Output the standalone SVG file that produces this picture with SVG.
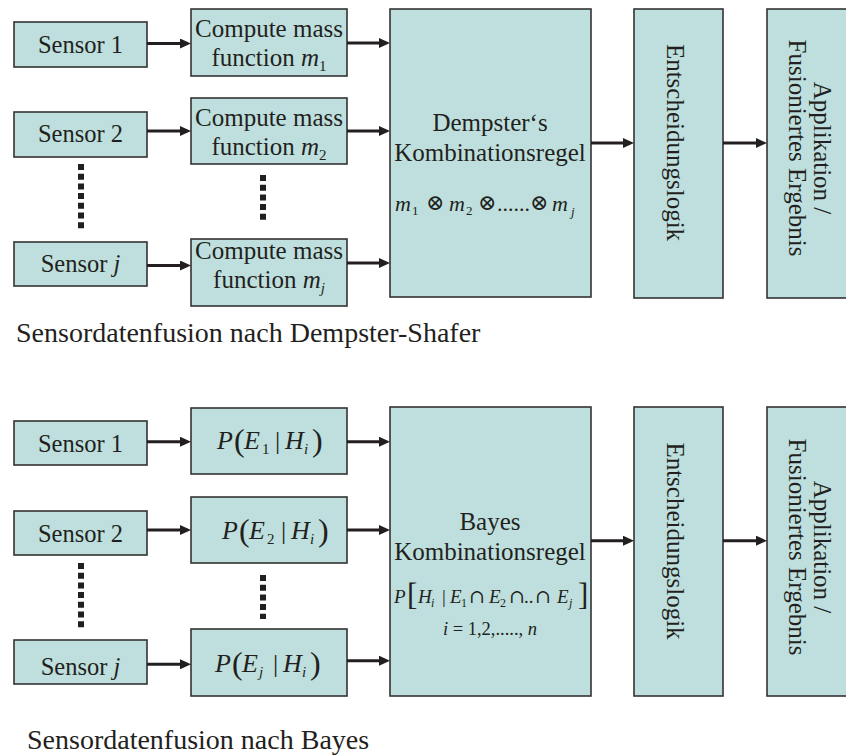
<svg xmlns="http://www.w3.org/2000/svg" width="846" height="756" viewBox="0 0 846 756">
  <style>
    .box { fill: #bedfdd; stroke: #333333; stroke-width: 1.6; }
    text { font-family: "Liberation Serif", "DejaVu Serif", serif; fill: #231f20; }
    .lbl { font-size: 25px; text-anchor: middle; }
    .sen { font-size: 24.5px; text-anchor: middle; }
    .cap { font-size: 28px; }
    .it { font-style: italic; }
    .op { font-family: "DejaVu Serif", serif; font-size: 22px; }
    .cap-op { font-family: "DejaVu Serif", serif; font-size: 19px; }
    .link { stroke: #231f20; stroke-width: 3; fill: none; marker-end: url(#head); }
    .dots { stroke: #231f20; stroke-width: 6; stroke-dasharray: 6 3.7; fill: none; }
  </style>
  <defs>
    <marker id="head" markerUnits="userSpaceOnUse" markerWidth="11" markerHeight="10" refX="5" refY="5" orient="auto">
      <path d="M0,0 L11,5 L0,10 z" fill="#231f20"/>
    </marker>
  </defs>

  <rect width="846" height="756" fill="#ffffff"/>

  <!-- Dempster-Shafer chain -->
  <g id="ds-sensor-1"><rect class="box" x="14" y="22" width="133" height="45"/><text class="sen" x="80.5" y="53">Sensor 1</text></g>
  <g id="ds-sensor-2"><rect class="box" x="14" y="112" width="133" height="45"/><text class="sen" x="80.5" y="142">Sensor 2</text></g>
  <g id="ds-sensor-j"><rect class="box" x="14" y="242" width="133" height="44"/><text class="sen" x="80.5" y="272">Sensor <tspan class="it">j</tspan></text></g>

  <g id="ds-mass-1"><rect class="box" x="191" y="9" width="156" height="67"/>
    <text class="lbl" x="269" y="36.5">Compute mass</text>
    <text class="lbl" x="269" y="65.5">function <tspan class="it">m</tspan><tspan font-size="15" dy="5">1</tspan></text></g>
  <g id="ds-mass-2"><rect class="box" x="191" y="98" width="156" height="66"/>
    <text class="lbl" x="269" y="125.5">Compute mass</text>
    <text class="lbl" x="269" y="155">function <tspan class="it">m</tspan><tspan font-size="15" dy="5">2</tspan></text></g>
  <g id="ds-mass-j"><rect class="box" x="191" y="239" width="156" height="67"/>
    <text class="lbl" x="269" y="259">Compute mass</text>
    <text class="lbl" x="269" y="288">function <tspan class="it">m</tspan><tspan class="it" font-size="15" dy="5">j</tspan></text></g>

  <g id="ds-combine"><rect class="box" x="390" y="9" width="201" height="288"/>
    <text class="lbl" x="490" y="131">Dempster‘s</text>
    <text class="lbl" x="490" y="161">Kombinationsregel</text>
    <text font-size="22" y="211">
      <tspan class="it" x="395">m</tspan><tspan x="412" y="215" font-size="13">1</tspan>
      <tspan class="op" x="426" y="210">⊗</tspan>
      <tspan class="it" x="449" y="211">m</tspan><tspan x="466" y="215" font-size="13">2</tspan>
      <tspan class="op" x="478" y="210">⊗</tspan>
      <tspan x="497" y="211">......</tspan>
      <tspan class="op" x="530" y="210">⊗</tspan>
      <tspan class="it" x="552" y="211">m</tspan><tspan class="it" x="571" y="216" font-size="13">j</tspan>
    </text></g>

  <g id="ds-decision"><rect class="box" x="634" y="9" width="89" height="289"/>
    <text class="lbl" transform="translate(667,142.5) rotate(90)">Entscheidungslogik</text></g>
  <g id="ds-result"><rect class="box" x="767" y="9" width="100" height="289"/>
    <text class="lbl" transform="translate(814,148) rotate(90)"><tspan x="0" y="0">Applikation /</tspan><tspan x="0" y="25">Fusioniertes Ergebnis</tspan></text></g>

  <text id="ds-caption" class="cap" x="16" y="342">Sensordatenfusion nach Dempster-Shafer</text>

  <!-- Bayes chain -->
  <g id="b-sensor-1"><rect class="box" x="14" y="421" width="133" height="44"/><text class="sen" x="80.5" y="451.5">Sensor 1</text></g>
  <g id="b-sensor-2"><rect class="box" x="14" y="511" width="133" height="44"/><text class="sen" x="80.5" y="541.5">Sensor 2</text></g>
  <g id="b-sensor-j"><rect class="box" x="14" y="640" width="133" height="44"/><text class="sen" x="80.5" y="675">Sensor <tspan class="it">j</tspan></text></g>

  <g id="b-lik-1"><rect class="box" x="191" y="408" width="156" height="66"/>
    <text font-size="26" y="449">
      <tspan class="it" x="217">P</tspan><tspan x="234" y="451" font-size="32">(</tspan><tspan class="it" x="244" y="449">E</tspan><tspan x="262" y="454" font-size="15">1</tspan>
      <tspan x="275" y="449">|</tspan><tspan class="it" x="285">H</tspan><tspan class="it" x="304" y="454" font-size="15">i</tspan><tspan x="312" y="451" font-size="32">)</tspan>
    </text></g>
  <g id="b-lik-2"><rect class="box" x="191" y="497" width="156" height="66"/>
    <text font-size="26" y="539">
      <tspan class="it" x="222">P</tspan><tspan x="239" y="541" font-size="32">(</tspan><tspan class="it" x="249" y="539">E</tspan><tspan x="267" y="544" font-size="15">2</tspan>
      <tspan x="281" y="539">|</tspan><tspan class="it" x="291">H</tspan><tspan class="it" x="310" y="544" font-size="15">i</tspan><tspan x="318" y="541" font-size="32">)</tspan>
    </text></g>
  <g id="b-lik-j"><rect class="box" x="191" y="629" width="156" height="67"/>
    <text font-size="26" y="672">
      <tspan class="it" x="215">P</tspan><tspan x="232" y="674" font-size="32">(</tspan><tspan class="it" x="242" y="672">E</tspan><tspan class="it" x="259" y="677" font-size="15">j</tspan>
      <tspan x="273" y="672">|</tspan><tspan class="it" x="283">H</tspan><tspan class="it" x="302" y="677" font-size="15">i</tspan><tspan x="310" y="674" font-size="32">)</tspan>
    </text></g>

  <g id="b-combine"><rect class="box" x="390" y="407" width="201" height="289"/>
    <text class="lbl" x="490" y="529.5">Bayes</text>
    <text class="lbl" x="490" y="559.5">Kombinationsregel</text>
    <text font-size="19" y="603">
      <tspan class="it" x="394">P</tspan><tspan x="407" y="605" font-size="31">[</tspan>
      <tspan class="it" x="418" y="603">H</tspan><tspan class="it" x="431" y="607" font-size="12">i</tspan>
      <tspan x="442" y="603">|</tspan>
      <tspan class="it" x="450">E</tspan><tspan x="461" y="607" font-size="12">1</tspan>
      <tspan class="cap-op" x="469" y="603">∩</tspan>
      <tspan class="it" x="489">E</tspan><tspan x="500" y="607" font-size="12">2</tspan>
      <tspan class="cap-op" x="509" y="603">∩</tspan><tspan x="524">..</tspan><tspan class="cap-op" x="535">∩</tspan>
      <tspan class="it" x="557">E</tspan><tspan class="it" x="569" y="607" font-size="12">j</tspan>
      <tspan x="578" y="605" font-size="31">]</tspan>
    </text>
    <text font-size="18.5" x="490" y="635" text-anchor="middle"><tspan class="it">i</tspan> = 1,2,....., <tspan class="it">n</tspan></text></g>

  <g id="b-decision"><rect class="box" x="634" y="407" width="89" height="289"/>
    <text class="lbl" transform="translate(667,541) rotate(90)">Entscheidungslogik</text></g>
  <g id="b-result"><rect class="box" x="767" y="407" width="100" height="289"/>
    <text class="lbl" transform="translate(814,547) rotate(90)"><tspan x="0" y="0">Applikation /</tspan><tspan x="0" y="25">Fusioniertes Ergebnis</tspan></text></g>

  <text id="b-caption" class="cap" x="27" y="749">Sensordatenfusion nach Bayes</text>

  <!-- connectors -->
  <g id="connectors">
    <line class="link" x1="147" y1="43.5" x2="185" y2="43.5"/>
    <line class="link" x1="147" y1="131" x2="185" y2="131"/>
    <line class="link" x1="147" y1="265.5" x2="185" y2="265.5"/>
    <line class="link" x1="347" y1="43" x2="384" y2="43"/>
    <line class="link" x1="347" y1="131" x2="384" y2="131"/>
    <line class="link" x1="347" y1="263" x2="384" y2="263"/>
    <line class="link" x1="591" y1="143" x2="628" y2="143"/>
    <line class="link" x1="723" y1="143" x2="761" y2="143"/>
    <line class="dots" x1="81" y1="164" x2="81" y2="232"/>
    <line class="dots" x1="263" y1="175" x2="263" y2="220"/>

    <line class="link" x1="147" y1="441.7" x2="185" y2="441.7"/>
    <line class="link" x1="147" y1="530" x2="185" y2="530"/>
    <line class="link" x1="147" y1="664.3" x2="185" y2="664.3"/>
    <line class="link" x1="347" y1="441.7" x2="384" y2="441.7"/>
    <line class="link" x1="347" y1="530" x2="384" y2="530"/>
    <line class="link" x1="347" y1="660.7" x2="384" y2="660.7"/>
    <line class="link" x1="591" y1="540.7" x2="628" y2="540.7"/>
    <line class="link" x1="723" y1="540.7" x2="761" y2="540.7"/>
    <line class="dots" x1="81" y1="563" x2="81" y2="630"/>
    <line class="dots" x1="263" y1="575" x2="263" y2="619"/>
  </g>
</svg>
